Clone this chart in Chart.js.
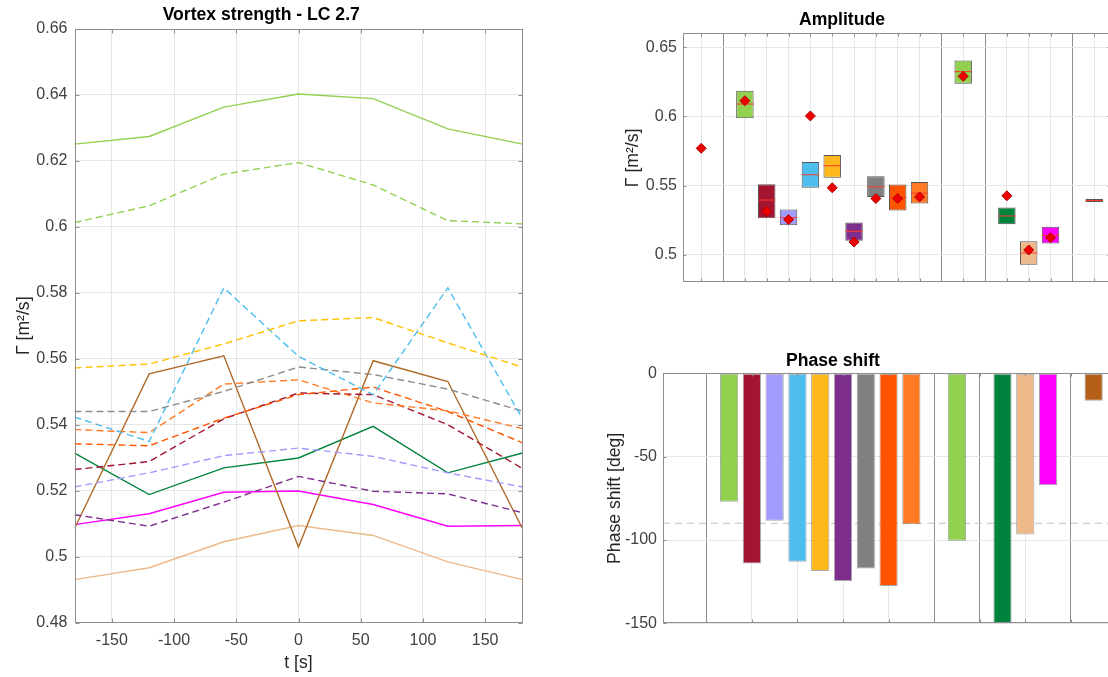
<!DOCTYPE html>
<html><head><meta charset="utf-8">
<script src="https://cdn.jsdelivr.net/npm/chart.js@4.4.1/dist/chart.umd.min.js"></script>
<style>
html,body{margin:0;padding:0;background:#fff;overflow:hidden;width:1108px;height:677px;position:relative;}
canvas{position:absolute;}
</style></head><body>
<canvas id="c1" width="540" height="677" style="left:0;top:0"></canvas>
<canvas id="c2" width="648" height="298" style="left:573px;top:0"></canvas>
<canvas id="c3" width="670" height="309" style="left:553px;top:330px"></canvas>
<script>
// ---------- DATA ----------
const tSec = [-180, -120, -60, 0, 60, 120, 180];
const lightGreenSolid  = [0.6251, 0.6274, 0.6363, 0.6403, 0.6389, 0.6297, 0.6251];
const lightGreenDashed = [0.6013, 0.6064, 0.6160, 0.6195, 0.6127, 0.6019, 0.6009];
const yellowDashed     = [0.5572, 0.5584, 0.5645, 0.5715, 0.5725, 0.5648, 0.5574];
const cyanDashed       = [0.5423, 0.5349, 0.5815, 0.5607, 0.5491, 0.5815, 0.5418];
const grayDashed       = [0.5440, 0.5440, 0.5501, 0.5575, 0.5552, 0.5508, 0.5441];
const orangeDashed     = [0.5385, 0.5376, 0.5523, 0.5536, 0.5466, 0.5442, 0.5388];
const orangeRedDashed  = [0.5342, 0.5336, 0.5420, 0.5491, 0.5514, 0.5440, 0.5345];
const darkRedDashed    = [0.5264, 0.5288, 0.5418, 0.5496, 0.5491, 0.5400, 0.5267];
const lavenderDashed   = [0.5211, 0.5254, 0.5306, 0.5329, 0.5304, 0.5254, 0.5211];
const purpleDashed     = [0.5127, 0.5092, 0.5165, 0.5243, 0.5198, 0.5190, 0.5133];
const brownSolid       = [0.5085, 0.5554, 0.5609, 0.5029, 0.5594, 0.5531, 0.5085];
const greenSolid       = [0.5314, 0.5188, 0.5269, 0.5299, 0.5395, 0.5254, 0.5314];
const magentaSolid     = [0.5097, 0.5130, 0.5195, 0.5199, 0.5158, 0.5092, 0.5094];
const peachSolid       = [0.4930, 0.4966, 0.5045, 0.5094, 0.5064, 0.4984, 0.4930];

const leftXTicks = [-150, -100, -50, 0, 50, 100, 150];
const leftYTicks = [0.48, 0.5, 0.52, 0.54, 0.56, 0.58, 0.6, 0.62, 0.64, 0.66];

const casePos   = [3, 4, 5, 6, 7, 8, 9, 10, 11, 13, 15, 16, 17, 19];
const ampLow    = [0.5987, 0.5264, 0.5213, 0.5484, 0.5556, 0.5101, 0.5418, 0.5320, 0.5370, 0.6236, 0.5220, 0.4927, 0.5082, 0.5381];
const ampHigh   = [0.6185, 0.5510, 0.5327, 0.5670, 0.5721, 0.5232, 0.5568, 0.5508, 0.5525, 0.6403, 0.5341, 0.5097, 0.5203, 0.5403];
const ampMedian = [0.6089, 0.5395, 0.5268, 0.5578, 0.5643, 0.5169, 0.5491, 0.5414, 0.5445, 0.6323, 0.5280, 0.5012, 0.5140, 0.5392];
const meanPos   = [1, 3, 4, 5, 6, 7, 8, 9, 10, 11, 13, 15, 16, 17];
const meanVal   = [0.5769, 0.6113, 0.5314, 0.5254, 0.6003, 0.5484, 0.5092, 0.5406, 0.5406, 0.5418, 0.6289, 0.5426, 0.5034, 0.5123];
const phaseVal  = [-77, -114, -88.5, -113, -118.5, -124.5, -117, -127.5, -90.5, -100.5, -150, -96.7, -67.2, -16.5];
const phaseRef  = -90;
const separators = [2, 12, 14, 18];
const ampXTicks = [1,2,3,4,5,6,7,8,9,10,11,12,13,14,15,16,17,18,19];
const ampYTicks = [0.5, 0.55, 0.6, 0.65];
const phaseXTicks = [2,4,6,8,10,12,14,16,18];
const phaseYTicks = [-150, -100, -50, 0];

// ---------- STYLES ----------
const caseColors = ['#92D050','#A2142F','#A29BFE','#4DBEEE','#FFB81C','#7E2F8E','#808080','#FF5500','#FF7A22','#92D050','#00843D','#EDB98A','#FF00FF','#B35F17'];
const leftSeries = [
  [lightGreenSolid,  '#92D050', false],
  [lightGreenDashed, '#92D050', true],
  [yellowDashed,     '#FFC000', true],
  [cyanDashed,       '#4DBEEE', true],
  [grayDashed,       '#8C8C8C', true],
  [orangeDashed,     '#FF7A22', true],
  [orangeRedDashed,  '#FF5500', true],
  [darkRedDashed,    '#A2142F', true],
  [lavenderDashed,   '#A29BFE', true],
  [purpleDashed,     '#7E2F8E', true],
  [brownSolid,       '#B06A2A', false],
  [greenSolid,       '#00843D', false],
  [magentaSolid,     '#FF00FF', false],
  [peachSolid,       '#EDB98A', false]
];

Chart.defaults.font.family = "'Liberation Sans', Arial, Helvetica, sans-serif";
Chart.defaults.color = '#404040';
Chart.defaults.animation = false;

const FRAME = '#8e8e8e';
const framePlugin = {
  id: 'frame',
  afterDatasetsDraw(chart, args, opts) {
    const {ctx, chartArea: a, scales} = chart;
    ctx.save();
    ctx.strokeStyle = FRAME;
    ctx.lineWidth = 1;
    const L = Math.round(a.left) + 0.5, R = Math.round(a.right) - 0.5;
    const T = Math.round(a.top) + 0.5, B = Math.round(a.bottom) - 0.5;
    ctx.strokeRect(L, T, R - L, B - T);
    const len = opts.tickLen || 4;
    ctx.beginPath();
    scales.x.ticks.forEach(t => {
      const px = Math.round(scales.x.getPixelForValue(t.value)) + 0.5;
      ctx.moveTo(px, T); ctx.lineTo(px, T + len);
      ctx.moveTo(px, B); ctx.lineTo(px, B - len);
    });
    scales.y.ticks.forEach(t => {
      const py = Math.round(scales.y.getPixelForValue(t.value)) + 0.5;
      ctx.moveTo(L, py); ctx.lineTo(L + len, py);
      ctx.moveTo(R, py); ctx.lineTo(R - len, py);
    });
    ctx.stroke();
    ctx.restore();
  }
};

const tickFont = {size: 16};
const labelFont = {size: 17.6};
const titleFont = {size: 17.6, weight: 'bold'};

// ---------- LEFT CHART ----------
new Chart(document.getElementById('c1'), {
  type: 'line',
  data: {
    datasets: leftSeries.map(([vals, col, dashed]) => ({
      data: tSec.map((t, i) => ({x: t, y: vals[i]})),
      borderColor: col,
      borderWidth: 1.4,
      borderDash: dashed ? [7, 4] : [],
      pointRadius: 0,
      tension: 0,
      fill: false
    }))
  },
  options: {
    responsive: false,
    layout: {padding: {left: 0, right: 17.5, top: 0, bottom: 0}},
    plugins: {
      legend: {display: false}, tooltip: {enabled: false},
      title: {display: true, text: 'Vortex strength - LC 2.7', color: '#000', font: titleFont, padding: {top: 4.7, bottom: 3.2}},
      frame: {tickLen: 4}
    },
    scales: {
      x: {
        type: 'linear', min: -180, max: 180,
        afterBuildTicks: s => { s.ticks = leftXTicks.map(v => ({value: v})); },
        afterFit: s => { s.height = 54.5; },
        ticks: {font: tickFont, padding: 8, maxRotation: 0, autoSkip: false, callback: v => String(v)},
        grid: {color: '#e6e6e6', drawTicks: false},
        border: {display: false},
        title: {display: true, text: 't [s]', font: labelFont, color: '#262626', padding: {top: 0, bottom: 3.4}}
      },
      y: {
        type: 'linear', min: 0.48, max: 0.66,
        afterBuildTicks: s => { s.ticks = leftYTicks.map(v => ({value: v})); },
        afterFit: s => { s.width = 74.5; },
        ticks: {font: tickFont, padding: 7, autoSkip: false, callback: v => String(v)},
        grid: {color: '#e6e6e6', drawTicks: false},
        border: {display: false},
        title: {display: true, text: 'Γ [m²/s]', font: labelFont, color: '#262626', padding: {top: 13.4, bottom: 0}}
      }
    }
  },
  plugins: [framePlugin]
});

// ---------- AMPLITUDE ----------
const sepGrid = ctx => (ctx.tick && separators.includes(ctx.tick.value)) ? '#8e8e8e' : '#e6e6e6';
new Chart(document.getElementById('c2'), {
  type: 'bar',
  data: {
    datasets: [
      {
        type: 'line', order: 1, showLine: false,
        data: meanPos.map((p, i) => ({x: p, y: meanVal[i]})),
        pointStyle: 'rectRot', pointRadius: 5,
        pointBackgroundColor: '#ee0000', pointBorderColor: '#b00000', pointBorderWidth: 1
      },
      {
        type: 'line', order: 2, showLine: false,
        data: casePos.map((p, i) => ({x: p, y: ampMedian[i]})),
        pointStyle: 'line', pointRadius: 8.7,
        pointBorderColor: '#ff3a2a', pointBorderWidth: 1
      },
      {
        type: 'bar', order: 3, grouped: false,
        data: casePos.map((p, i) => ({x: p, y: [ampLow[i], ampHigh[i]]})),
        backgroundColor: caseColors, borderColor: '#555', borderWidth: 1, borderSkipped: false,
        barPercentage: 0.8, categoryPercentage: 1
      }
    ]
  },
  options: {
    responsive: false,
    layout: {padding: {left: 0, right: 110, top: 0, bottom: 0}},
    plugins: {
      legend: {display: false}, tooltip: {enabled: false},
      title: {display: true, text: 'Amplitude', color: '#000', font: titleFont, padding: {top: 9.9, bottom: 2.3}},
      frame: {tickLen: 3}
    },
    scales: {
      x: {
        type: 'linear', min: 0.165, max: 19.77, offset: false,
        afterBuildTicks: s => { s.ticks = ampXTicks.map(v => ({value: v})); },
        afterFit: s => { s.height = 10; },
        ticks: {display: false},
        grid: {color: sepGrid, drawTicks: false, offset: false},
        border: {display: false}
      },
      y: {
        type: 'linear', min: 0.48, max: 0.66, beginAtZero: false,
        afterBuildTicks: s => { s.ticks = ampYTicks.map(v => ({value: v})); },
        afterFit: s => { s.width = 110; },
        ticks: {font: tickFont, padding: 6, autoSkip: false, callback: v => String(v)},
        grid: {color: '#e6e6e6', drawTicks: false},
        border: {display: false},
        title: {display: true, text: 'Γ [m²/s]', font: labelFont, color: '#262626', padding: {top: 49.4, bottom: 0}}
      }
    }
  },
  plugins: [framePlugin]
});

// ---------- PHASE SHIFT ----------
new Chart(document.getElementById('c3'), {
  type: 'bar',
  data: {
    datasets: [
      {
        type: 'bar', order: 1, grouped: false,
        data: casePos.map((p, i) => ({x: p, y: phaseVal[i]})),
        backgroundColor: caseColors, borderColor: 'rgba(60,60,60,0.45)', borderWidth: 1, borderSkipped: false,
        barPercentage: 0.8, categoryPercentage: 1
      },
      {
        type: 'line', order: 5,
        data: [{x: 0.1, y: phaseRef}, {x: 19.85, y: phaseRef}],
        borderColor: '#cfcfcf', borderWidth: 1.2, borderDash: [7, 5], pointRadius: 0
      }
    ]
  },
  options: {
    responsive: false,
    layout: {padding: {left: 0, right: 110, top: 0, bottom: 0}},
    plugins: {
      legend: {display: false}, tooltip: {enabled: false},
      title: {display: true, text: 'Phase shift', color: '#000', font: titleFont, padding: {top: 20.1, bottom: 2.1}},
      frame: {tickLen: 3}
    },
    scales: {
      x: {
        type: 'linear', min: 0.1, max: 19.85, offset: false,
        afterBuildTicks: s => { s.ticks = phaseXTicks.map(v => ({value: v})); },
        afterFit: s => { s.height = 9.7; },
        ticks: {display: false},
        grid: {color: sepGrid, drawTicks: false, offset: false},
        border: {display: false}
      },
      y: {
        type: 'linear', min: -150, max: 0,
        afterBuildTicks: s => { s.ticks = phaseYTicks.map(v => ({value: v})); },
        afterFit: s => { s.width = 110; },
        ticks: {font: tickFont, padding: 6, autoSkip: false, callback: v => String(v)},
        grid: {color: '#e6e6e6', drawTicks: false},
        border: {display: false},
        title: {display: true, text: 'Phase shift [deg]', font: labelFont, color: '#262626', padding: {top: 51.4, bottom: 0}}
      }
    }
  },
  plugins: [framePlugin]
});
</script>
</body></html>
